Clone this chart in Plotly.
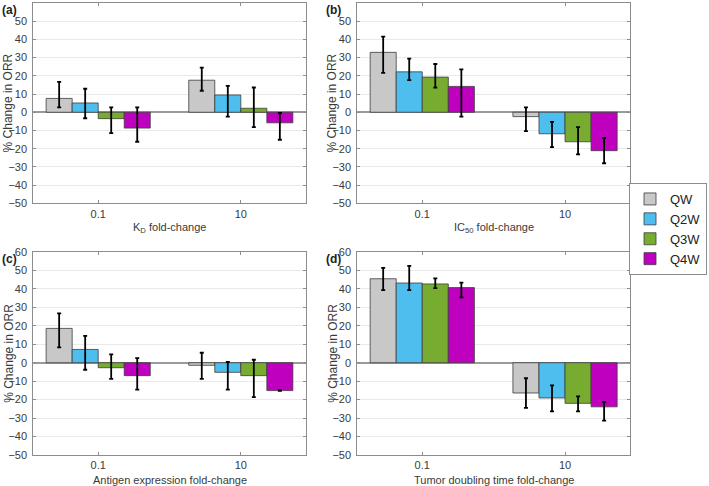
import plotly.graph_objects as go
from plotly.subplots import make_subplots

# categories and series
fold_changes = ["0.1", "10"]
schedules = ["QW", "Q2W", "Q3W", "Q4W"]
colors = ["#c8c8c8", "#4dbeee", "#77ac30", "#bf00bf"]

# % change in ORR per panel: schedule -> [0.1, 10]
kd_mean = {"QW": [7.6, 17.6], "Q2W": [5.1, 9.5], "Q3W": [-3.5, 2.2], "Q4W": [-8.7, -5.8]}
kd_hi = {"QW": [16.7, 24.5], "Q2W": [12.9, 14.5], "Q3W": [2.7, 13.6], "Q4W": [2.7, -0.4]}
kd_lo = {"QW": [2.7, 11.8], "Q2W": [-3.3, -2.4], "Q3W": [-11.5, -8.2], "Q4W": [-16.2, -15.1]}

ic50_mean = {"QW": [32.9, -2.4], "Q2W": [22.2, -11.8], "Q3W": [19.3, -16.2], "Q4W": [14.2, -21.1]}
ic50_hi = {"QW": [41.5, 2.7], "Q2W": [29.5, -5.3], "Q3W": [26.5, -8.2], "Q4W": [23.5, -14.2]}
ic50_lo = {"QW": [21.6, -10.4], "Q2W": [17.6, -19.1], "Q3W": [13.5, -23.1], "Q4W": [-2.4, -28.0]}

ag_mean = {"QW": [18.6, -1.4], "Q2W": [7.2, -5.2], "Q3W": [-2.7, -7.0], "Q4W": [-7.0, -15.1]}
ag_hi = {"QW": [26.7, 5.4], "Q2W": [14.6, 0.5], "Q3W": [4.5, 1.6], "Q4W": [2.5, -14.9]}
ag_lo = {"QW": [8.3, -8.8], "Q2W": [-3.8, -14.6], "Q3W": [-8.8, -18.6], "Q4W": [-14.6, -15.3]}

td_mean = {"QW": [45.5, -16.4], "Q2W": [43.2, -19.1], "Q3W": [42.7, -22.0], "Q4W": [40.7, -23.9]}
td_hi = {"QW": [51.4, -8.4], "Q2W": [52.5, -12.3], "Q3W": [45.7, -18.2], "Q4W": [43.4, -21.4]}
td_lo = {"QW": [39.3, -24.5], "Q2W": [39.3, -26.4], "Q3W": [40.4, -26.4], "Q4W": [35.4, -31.4]}

panels = [
    (1, 1, "(a)", "K<sub>D</sub> fold-change", kd_mean, kd_hi, kd_lo),
    (1, 2, "(b)", "IC<sub>50</sub> fold-change", ic50_mean, ic50_hi, ic50_lo),
    (2, 1, "(c)", "Antigen expression fold-change", ag_mean, ag_hi, ag_lo),
    (2, 2, "(d)", "Tumor doubling time fold-change", td_mean, td_hi, td_lo),
]

W, H = 709, 486
FONT = "Liberation Sans, Arial, sans-serif"
TXT = "#3a3a3a"

# pixel boxes of the four axes (left, right, top, bottom)
x_cols = {1: (33.3, 305.7), 2: (357.3, 630.0)}
y_rows = {1: (3.0, 203.3), 2: (252.0, 455.0)}

fig = make_subplots(rows=2, cols=2)

for row, col, tag, xtitle, mean, hi, lo in panels:
    for name, color in zip(schedules, colors):
        m = mean[name]
        fig.add_trace(go.Bar(
            x=fold_changes, y=m, name=name,
            marker=dict(color=color, line=dict(color="#3c3c3c", width=0.8)),
            error_y=dict(type="data", symmetric=False,
                         array=[h - v for h, v in zip(hi[name], m)],
                         arrayminus=[v - l for l, v in zip(lo[name], m)],
                         color="black", thickness=1.8, width=2),
            showlegend=(row == 1 and col == 1), legendgroup=name,
        ), row=row, col=col)

    xl, xr = x_cols[col]
    yt, yb = y_rows[row]
    fig.update_xaxes(domain=[xl / W, xr / W], range=[-0.455, 1.455], automargin=False,
                     showline=True, linecolor="#8c8c8c", linewidth=1, mirror="ticks",
                     ticks="inside", ticklen=3, tickcolor="#8c8c8c",
                     showgrid=False, tickfont=dict(size=11, color=TXT, family=FONT),
                     row=row, col=col)
    fig.update_yaxes(domain=[1 - yb / H, 1 - yt / H], range=[-50, 60], dtick=10, automargin=False,
                     showline=True, linecolor="#8c8c8c", linewidth=1, mirror="ticks",
                     ticks="inside", ticklen=3, tickcolor="#8c8c8c",
                     showgrid=True, gridcolor="#e9e9e9", gridwidth=1,
                     zeroline=True, zerolinecolor="#9a9a9a", zerolinewidth=1.5,
                     tickfont=dict(size=11, color=TXT, family=FONT), ticklabelstandoff=3,
                     row=row, col=col)

    # axis titles and panel tags
    fig.add_annotation(x=(xl + xr) / 2 / W, y=1 - (yb + 25) / H, xref="paper", yref="paper",
                       xanchor="center", yanchor="middle",
                       text=xtitle, showarrow=False, font=dict(size=11, color=TXT, family=FONT))
    fig.add_annotation(x=(xl - 25) / W, y=1 - (yt + yb) / 2 / H, xref="paper", yref="paper",
                       xanchor="center", yanchor="middle",
                       text="% Change in ORR", textangle=-90, showarrow=False,
                       font=dict(size=12, color=TXT, family=FONT))
    fig.add_annotation(x=(xl - 33.5) / W, y=1 - (yt + 7) / H, xref="paper", yref="paper",
                       xanchor="left", yanchor="middle", text="<b>" + tag + "</b>", showarrow=False,
                       font=dict(size=12, color="#222222", family=FONT))

fig.update_layout(
    width=W, height=H,
    margin=dict(l=0, r=0, t=0, b=0, autoexpand=False),
    paper_bgcolor="white", plot_bgcolor="white",
    barmode="group", bargap=0.27, bargroupgap=0,
    legend=dict(x=707 / W, y=1 - 183 / H, xanchor="right", yanchor="top",
                bordercolor="#8c8c8c", borderwidth=1, bgcolor="white",
                font=dict(size=13, color="#222222", family=FONT),
                itemwidth=30, tracegroupgap=0),
)

# page body has a default 8px margin; drop it so the figure sits at the window corner
fig.write_html("out.html", config={"displayModeBar": False},
               post_script="document.body.style.margin='0px';")
